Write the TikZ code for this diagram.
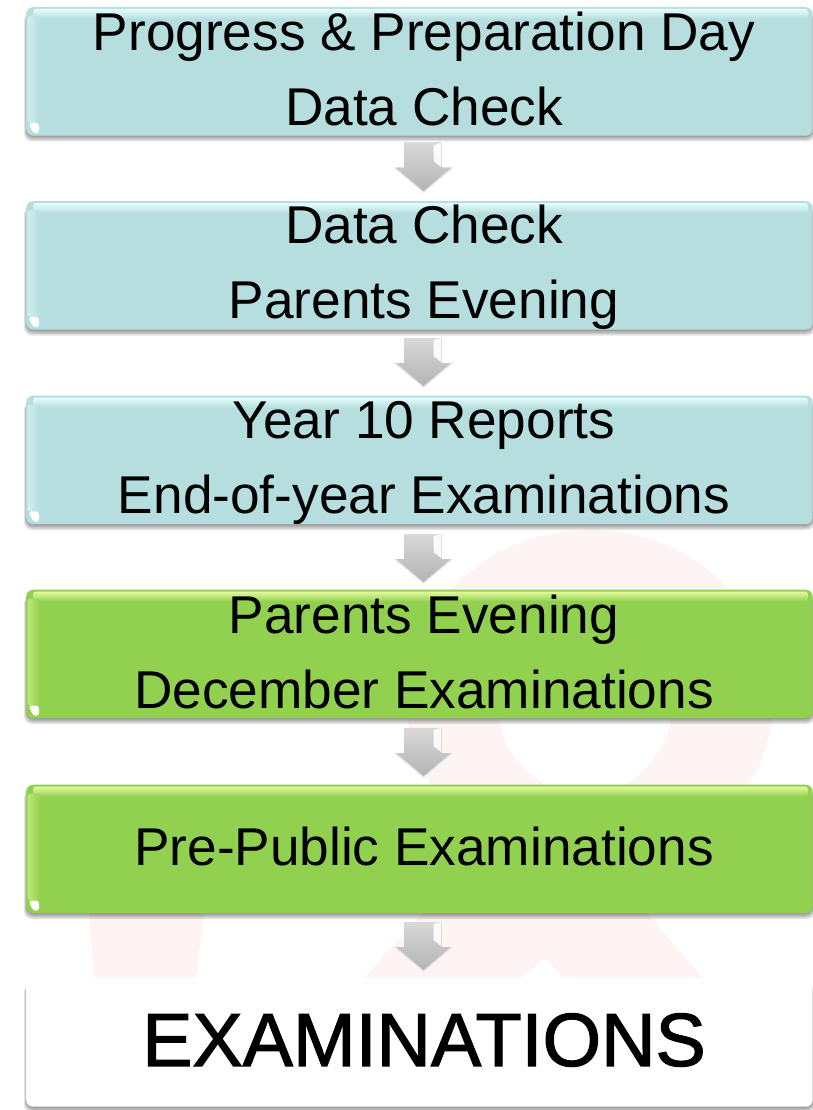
\documentclass[tikz,border=0pt]{standalone}
\usepackage{fontspec}
\setmainfont{Liberation Sans}
\newfontfamily\fatfont[FakeBold=1.6]{Liberation Sans}
\usetikzlibrary{calc}
\definecolor{tealbox}{HTML}{B7DEDF}
\definecolor{tealtop}{HTML}{E6FCFC}
\definecolor{greenbox}{HTML}{92D050}
\definecolor{greentop}{HTML}{E2FB9E}
\definecolor{ribbon}{HTML}{FEF4F4}
\tikzset{x=1pt,y=-1pt,
  softshadow/.style={fill=black,opacity=.11,rounded corners=8pt,draw=none},
  boxtext/.style={font=\fontsize{53.2}{75}\selectfont,align=center,text=black,inner sep=0pt},
  flowbox/.style={rounded corners=7pt,draw=none,inner sep=0pt,minimum width=786.5pt,minimum height=128.5pt,anchor=north west},
}
% #1 top y
\newcommand{\myshadow}[1]{%
  \fill[softshadow] (24,#1+6) rectangle (815,#1+134.5);
  \fill[softshadow] (25,#1+6) rectangle (814,#1+133);
  \fill[softshadow] (25.5,#1+6) rectangle (813.5,#1+131.5);
  \fill[softshadow] (26,#1+6) rectangle (813,#1+130);
}
% #1 name, #2 top y, #3 fill, #4 highlight
\newcommand{\mybox}[4]{%
  \myshadow{#2}
  \node[flowbox,fill=#3] (#1) at (26,#2) {};
  \shade[top color=#4,bottom color=#3,rounded corners=3pt] (33,#2+2) rectangle (808,#2+12);
  \shade[left color=#4!55!#3,right color=#3,rounded corners=3pt] (27.5,#2+9) rectangle (40,#2+116);
  \fill[white,rounded corners=3pt] (28.5,#2+116) -- (39,#2+116) -- (39,#2+126.5) -- (33,#2+126) -- cycle;
}
% #1 name, #2 tip y
\newcommand{\myarrow}[2]{%
  \node[minimum size=0pt,inner sep=0pt] (#1) at (423.5,#2) {};
  \fill[top color=black!15,bottom color=black!30] (#1.center)++(-19.5,-49) -- ++(37,0) -- ++(0,25) -- ++(11,0) -- (#1.center) -- ++(-28.5,-24) -- ++(9,0) -- cycle;
  \fill[white,opacity=.9] (#1.center)++(10,-47) -- ++(7.5,-2) -- ++(0,24) -- ++(-7.5,-6) -- cycle;
  \draw[black!10,line width=1.2pt] (#1.center)++(-28.5,-24) -- (#1.center) -- ++(28.5,-24);
}
\begin{document}
\begin{tikzpicture}
\useasboundingbox (0,0) rectangle (813,1110);
\fill[white] (0,0) rectangle (813,1110);
% faint ribbon behind the boxes
\begin{scope}
\clip (0,0) rectangle (813,978);
\fill[ribbon,even odd rule] (590,700) ellipse [x radius=183,y radius=170] (585,700) ellipse [x radius=88,y radius=95];
\fill[ribbon,rounded corners=12pt] (95,985) -- (88,905) -- (205,905) -- (195,985) -- cycle;
\fill[ribbon] (364,978) -- (430,905) -- (640,905) -- (703,978) -- (563,978) -- (546,958) -- (520,978) -- cycle;
\end{scope}

\mybox{b1}{7}{tealbox}{tealtop}
\mybox{b2}{201}{tealbox}{tealtop}
\mybox{b3}{395.5}{tealbox}{tealtop}
\mybox{b4}{589.5}{greenbox}{greentop}
\mybox{b5}{784.5}{greenbox}{greentop}
\myshadow{978}
\node[flowbox,fill=white] (b6) at (26,978) {};

\myarrow{a1}{192}
\myarrow{a2}{387}
\myarrow{a3}{583}
\myarrow{a4}{777}
\myarrow{a5}{971}

\node[boxtext,anchor=center] (t1) at (424,68.5) {Progress \& Preparation Day\\Data Check};
\node[boxtext,anchor=center] (t2) at (424,267.5) {Data Check\\Parents Evening};
\node[boxtext,anchor=center] (t3) at (424,462.5) {Year 10 Reports\\End-of-year Examinations};
\node[boxtext,anchor=center] (t4) at (424,651.5) {Parents Evening\\December Examinations};
\node[boxtext,anchor=center] (t5) at (424,846) {Pre-Public Examinations};
\node[anchor=center,inner sep=0pt,text=black,font=\fatfont\fontsize{75.3}{80}\selectfont] (t6) at (424,1040) {EXAMINATIONS};
\end{tikzpicture}
\end{document}
